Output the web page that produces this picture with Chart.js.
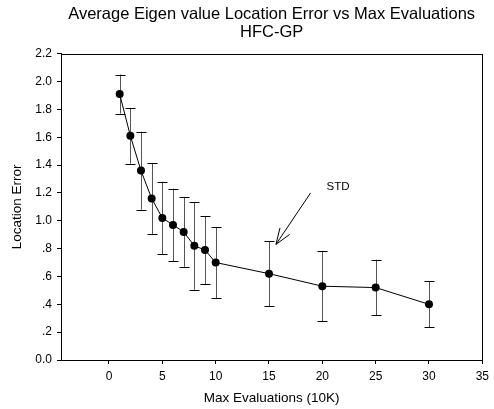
<!DOCTYPE html>
<html>
<head>
<meta charset="utf-8">
<script src="https://cdn.jsdelivr.net/npm/chart.js@4"></script>
<style>
  html, body { margin: 0; padding: 0; background: #fff; }
  #wrap { width: 494px; height: 409px; }
</style>
</head>
<body>
<div id="wrap"><canvas id="errChart"></canvas></div>
<script>
var evals = [1, 2, 3, 4, 5, 6, 7, 8, 9, 10, 15, 20, 25, 30];
var meanErr = [1.91, 1.61, 1.36, 1.16, 1.02, 0.97, 0.92, 0.82, 0.79, 0.70, 0.62, 0.53, 0.52, 0.40];
var stdErr = [0.14, 0.20, 0.28, 0.255, 0.26, 0.26, 0.25, 0.315, 0.245, 0.255, 0.235, 0.25, 0.20, 0.165];
var xTicks = [0, 5, 10, 15, 20, 25, 30, 35];
var yTicks = [0, 0.2, 0.4, 0.6, 0.8, 1.0, 1.2, 1.4, 1.6, 1.8, 2.0, 2.2];
var yTickLabels = ["0.0", ".2", ".4", ".6", ".8", "1.0", "1.2", "1.4", "1.6", "1.8", "2.0", "2.2"];

var FONT = '"Liberation Sans", Arial, sans-serif';
var points = evals.map(function (x, i) { return { x: x, y: meanErr[i] }; });

// error bars, frame and the STD arrow
var extras = {
  id: 'extras',
  beforeDatasetsDraw: function (chart) {
    var c = chart.ctx, xs = chart.scales.x, ys = chart.scales.y;
    c.save();
    c.lineWidth = 1;
    evals.forEach(function (x, i) {
      var px = Math.round(xs.getPixelForValue(x)) + 0.5;
      var top = ys.getPixelForValue(meanErr[i] + stdErr[i]);
      var bot = ys.getPixelForValue(meanErr[i] - stdErr[i]);
      c.strokeStyle = '#555';
      c.beginPath(); c.moveTo(px, top); c.lineTo(px, bot); c.stroke();
      c.strokeStyle = '#000';
      c.beginPath();
      c.moveTo(px - 5, Math.round(top) + 0.5); c.lineTo(px + 5, Math.round(top) + 0.5);
      c.moveTo(px - 5, Math.round(bot) + 0.5); c.lineTo(px + 5, Math.round(bot) + 0.5);
      c.stroke();
    });
    c.restore();
  },
  afterDraw: function (chart) {
    var c = chart.ctx, a = chart.chartArea, xs = chart.scales.x, ys = chart.scales.y;
    c.save();
    c.strokeStyle = '#000';
    c.lineWidth = 1;
    c.strokeRect(Math.round(a.left) + 0.5, Math.round(a.top) + 0.5,
      Math.round(a.right - a.left), Math.round(a.bottom - a.top));
    // arrow
    var x0 = xs.getPixelForValue(18.9), y0 = ys.getPixelForValue(1.2);
    var x1 = xs.getPixelForValue(15.65), y1 = ys.getPixelForValue(0.83);
    c.beginPath(); c.moveTo(x0, y0); c.lineTo(x1, y1); c.stroke();
    var ang = Math.atan2(y0 - y1, x0 - x1);
    [0.35, -0.35].forEach(function (d) {
      c.beginPath();
      c.moveTo(x1, y1);
      c.lineTo(x1 + 17 * Math.cos(ang + d), y1 + 17 * Math.sin(ang + d));
      c.stroke();
    });
    c.fillStyle = '#000';
    c.font = '11.5px ' + FONT;
    c.textAlign = 'left';
    c.textBaseline = 'middle';
    c.fillText('STD', xs.getPixelForValue(20.4), ys.getPixelForValue(1.245));
    c.restore();
  }
};

new Chart(document.getElementById('errChart').getContext('2d'), {
  type: 'scatter',
  data: {
    datasets: [{
      data: points,
      showLine: true,
      borderColor: '#000',
      borderWidth: 1,
      backgroundColor: '#000',
      pointRadius: 4,
      pointBorderWidth: 0
    }]
  },
  options: {
    responsive: true,
    maintainAspectRatio: false,
    animation: false,
    layout: { padding: { left: 0, right: 5, top: 0, bottom: 0 } },
    plugins: {
      legend: { display: false },
      tooltip: { enabled: false },
      title: {
        display: true,
        fullSize: false,
        text: ['Average Eigen value Location Error vs Max Evaluations', 'HFC-GP'],
        color: '#000',
        font: { family: FONT, size: 16.5, weight: 'normal', lineHeight: 1.05 },
        padding: { top: 6, bottom: 13 }
      }
    },
    scales: {
      x: {
        type: 'linear',
        min: -4.5,
        max: 35,
        afterBuildTicks: function (s) { s.ticks = xTicks.map(function (v) { return { value: v }; }); },
        afterFit: function (s) { s.height = 49; },
        grid: { drawOnChartArea: false, drawTicks: true, tickLength: 4, color: '#000' },
        border: { display: true, color: '#000' },
        ticks: {
          color: '#000',
          padding: 5,
          maxRotation: 0,
          font: { family: FONT, size: 12 }
        },
        title: {
          display: true,
          text: 'Max Evaluations (10K)',
          color: '#000',
          padding: { top: 4, bottom: 3 },
          font: { family: FONT, size: 13.5 }
        }
      },
      y: {
        min: 0,
        max: 2.2,
        afterBuildTicks: function (s) { s.ticks = yTicks.map(function (v) { return { value: v }; }); },
        afterFit: function (s) { s.width = 61; },
        grid: { drawOnChartArea: false, drawTicks: true, tickLength: 4, color: '#000' },
        border: { display: true, color: '#000' },
        ticks: {
          color: '#000',
          padding: 5,
          font: { family: FONT, size: 12 },
          callback: function (v) {
            var i = yTicks.findIndex(function (t) { return Math.abs(t - v) < 1e-6; });
            return i >= 0 ? yTickLabels[i] : '';
          }
        },
        title: {
          display: true,
          text: 'Location Error',
          color: '#000',
          padding: { top: 9, bottom: 0 },
          font: { family: FONT, size: 13.5 }
        }
      }
    }
  },
  plugins: [extras]
});
</script>
</body>
</html>
